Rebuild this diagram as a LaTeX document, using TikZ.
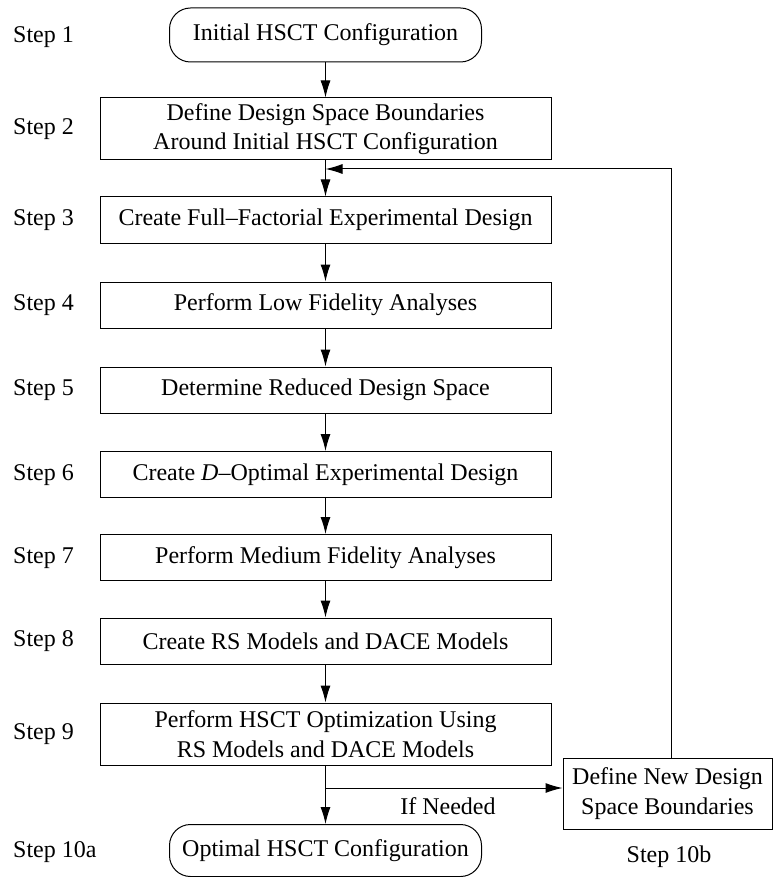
\documentclass[tikz,border=0pt]{standalone}
\usepackage{fontspec}
\setmainfont{Liberation Serif}
\usetikzlibrary{arrows.meta}
\begin{document}
\begin{tikzpicture}[x=1pt,y=-1pt,
  every node/.style={font=\fontsize{24}{29.5}\selectfont, inner sep=0pt},
  box/.style={draw, line width=1pt, minimum width=451pt, align=center},
  term/.style={draw, line width=1pt, minimum width=312pt, minimum height=54pt, rounded corners=21pt},
  lbl/.style={anchor=west},
  arr/.style={line width=1pt, -{Latex[length=17pt,width=10pt]}},
  ln/.style={line width=1pt}]
\useasboundingbox (0,0) rectangle (773,877);
% step labels
\node[lbl] (s1) at (13,37) {Step 1};
\node[lbl] (s2) at (13,129) {Step 2};
\node[lbl] (s3) at (13,220) {Step 3};
\node[lbl] (s4) at (13,305) {Step 4};
\node[lbl] (s5) at (13,390) {Step 5};
\node[lbl] (s6) at (13,475) {Step 6};
\node[lbl] (s7) at (13,558) {Step 7};
\node[lbl] (s8) at (13,641) {Step 8};
\node[lbl] (s9) at (13,734) {Step 9};
\node[lbl] (s10a) at (13,852) {Step 10a};
\node (s10b) at (669,857) {Step 10b};
% boxes
\node[term] (b1) at (325.5,35) {Initial HSCT Configuration};
\node[box, minimum height=62pt] (b2) at (325.5,129) {Define Design Space Boundaries\\Around Initial HSCT Configuration};
\node[box, minimum height=46pt] (b3) at (325.5,220) {Create Full\textendash Factorial Experimental Design};
\node[box, minimum height=46pt] (b4) at (325.5,305) {Perform Low Fidelity Analyses};
\node[box, minimum height=46pt] (b5) at (325.5,390) {Determine Reduced Design Space};
\node[box, minimum height=46pt] (b6) at (325.5,474.5) {Create \textit{D}\textendash Optimal Experimental Design};
\node[box, minimum height=46pt] (b7) at (325.5,557.5) {Perform Medium Fidelity Analyses};
\node[box, minimum height=46pt] (b8) at (325.5,641) {Create RS Models and DACE Models};
\node[box, minimum height=62pt] (b9) at (325.5,734) {Perform HSCT Optimization Using\\RS Models and DACE Models};
\node[term, minimum height=52pt] (b10a) at (325.5,850.5) {Optimal HSCT Configuration};
\node[draw, line width=1pt, minimum width=209pt, minimum height=71pt, align=center] (b10b) at (667.5,793.5) {Define New Design\\Space Boundaries};
% junctions
\coordinate (j2) at (325.5,169);
\coordinate (j9) at (325.5,788);
\coordinate (up) at (671,169);
% connectors
\draw[arr] (b1) -- (b1 |- b2.north);
\draw[arr] (b2) -- (b3);
\draw[arr] (b3) -- (b4);
\draw[arr] (b4) -- (b5);
\draw[arr] (b5) -- (b6);
\draw[arr] (b6) -- (b7);
\draw[arr] (b7) -- (b8);
\draw[arr] (b8) -- (b9);
\draw[arr] (b9) -- (b10a);
\draw[arr] (j9) -- (b10b.west |- j9);
\draw[arr] (up |- b10b.north) -- (up) -- (j2);
\node (ifn) at (448,806) {If Needed};
\end{tikzpicture}
\end{document}
